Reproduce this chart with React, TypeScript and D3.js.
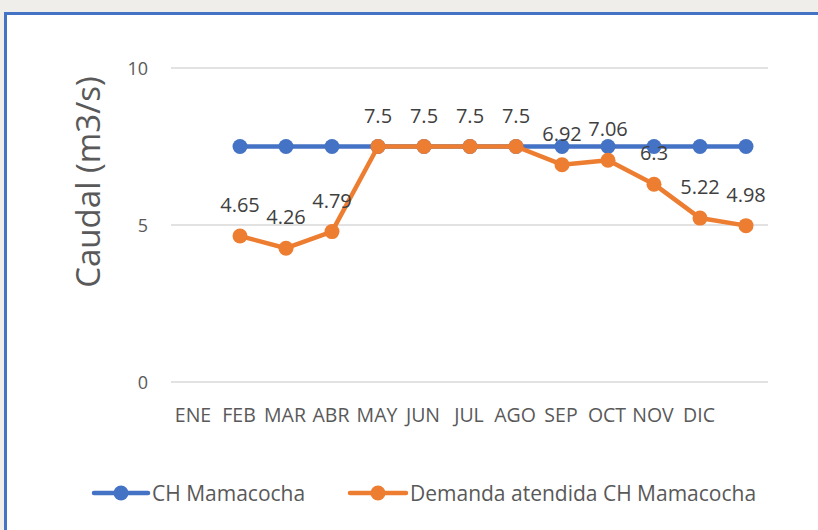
import React from 'react'
import * as d3 from 'd3'

// months (the 13th slot is empty, the series start at FEB)
const categories = ['ENE', 'FEB', 'MAR', 'ABR', 'MAY', 'JUN', 'JUL', 'AGO', 'SEP', 'OCT', 'NOV', 'DIC', '']
const slots = ['s0', 's1', 's2', 's3', 's4', 's5', 's6', 's7', 's8', 's9', 's10', 's11', 's12']

const chMamacocha = [null, 7.5, 7.5, 7.5, 7.5, 7.5, 7.5, 7.5, 7.5, 7.5, 7.5, 7.5, 7.5]
const demandaAtendida = [null, 4.65, 4.26, 4.79, 7.5, 7.5, 7.5, 7.5, 6.92, 7.06, 6.3, 5.22, 4.98]

const yTicks = [0, 5, 10]

const seriesNames = ['CH Mamacocha', 'Demanda atendida CH Mamacocha']

const BLUE = '#4472C4'
const ORANGE = '#ED7D31'
const FONT = "'Open Sans', sans-serif"

type Pt = { i: number; v: number }

const App = () => {
  const width = 818
  const height = 530

  const x = d3.scaleBand<string>().domain(slots).range([171, 769])
  const y = d3.scaleLinear().domain([0, 10]).range([382, 68])
  const cx = (i: number) => (x(slots[i]) as number) + x.bandwidth() / 2

  const toPts = (arr: (number | null)[]): Pt[] =>
    arr.map((v, i) => ({ i, v: v as number })).filter((d) => d.v != null)

  const line = d3
    .line<Pt>()
    .x((d) => cx(d.i))
    .y((d) => y(d.v))

  const blue = toPts(chMamacocha)
  const orange = toPts(demandaAtendida)

  return (
    <svg
      width={width}
      height={height}
      style={{ position: 'fixed', left: 0, top: 0, background: '#fff' }}
    >
      {/* page background behind the cut chart */}
      <rect x={0} y={0} width={width} height={12} fill="#efeeea" />
      <rect x={0} y={0} width={4} height={height} fill="#efeeea" />
      <line x1={4} y1={13.5} x2={width} y2={13.5} stroke={BLUE} strokeWidth={3} />
      <line x1={5.5} y1={12} x2={5.5} y2={height} stroke={BLUE} strokeWidth={3} />

      {/* grid + y ticks */}
      {yTicks.map((t) => (
        <g key={t}>
          <line x1={171} x2={768} y1={y(t)} y2={y(t)} stroke="#d9d9d9" strokeWidth={1.5} />
          <text
            x={148}
            y={y(t) + 6.5}
            textAnchor="end"
            fontFamily={FONT}
            fontSize={18}
            fill="#595959"
          >
            {t}
          </text>
        </g>
      ))}

      {/* axis title */}
      <text
        transform={`translate(100,182) rotate(-90)`}
        textAnchor="middle"
        fontFamily={FONT}
        fontSize={33}
        fill="#595959"
      >
        Caudal (m3/s)
      </text>

      {/* x labels */}
      {categories.map((c, i) => (
        <text
          key={i}
          x={cx(i) - 1}
          y={422}
          textAnchor="middle"
          fontFamily={FONT}
          fontSize={19.5}
          fill="#595959"
        >
          {c}
        </text>
      ))}

      {/* series */}
      <path d={line(blue) as string} fill="none" stroke={BLUE} strokeWidth={4.5} strokeLinejoin="round" />
      {blue.map((d) => (
        <circle key={d.i} cx={cx(d.i)} cy={y(d.v)} r={7.5} fill={BLUE} />
      ))}
      <path d={line(orange) as string} fill="none" stroke={ORANGE} strokeWidth={4.5} strokeLinejoin="round" />
      {orange.map((d) => (
        <circle key={d.i} cx={cx(d.i)} cy={y(d.v)} r={7.5} fill={ORANGE} />
      ))}
      {orange.map((d) => (
        <text
          key={d.i}
          x={cx(d.i)}
          y={y(d.v) - 24}
          textAnchor="middle"
          fontFamily={FONT}
          fontSize={20}
          fill="#404040"
        >
          {d.v}
        </text>
      ))}

      {/* legend */}
      <g transform="translate(94,493)">
        <line x1={0} x2={54} y1={0} y2={0} stroke={BLUE} strokeWidth={4.5} strokeLinecap="round" />
        <circle cx={27} cy={0} r={7.5} fill={BLUE} />
        <text x={58} y={7.5} fontFamily={FONT} fontSize={21} fill="#595959">
          {seriesNames[0]}
        </text>
      </g>
      <g transform="translate(350,493)">
        <line x1={0} x2={56} y1={0} y2={0} stroke={ORANGE} strokeWidth={4.5} strokeLinecap="round" />
        <circle cx={28} cy={0} r={7.5} fill={ORANGE} />
        <text x={60} y={7.5} fontFamily={FONT} fontSize={21} fill="#595959">
          {seriesNames[1]}
        </text>
      </g>
    </svg>
  )
}

export default App
